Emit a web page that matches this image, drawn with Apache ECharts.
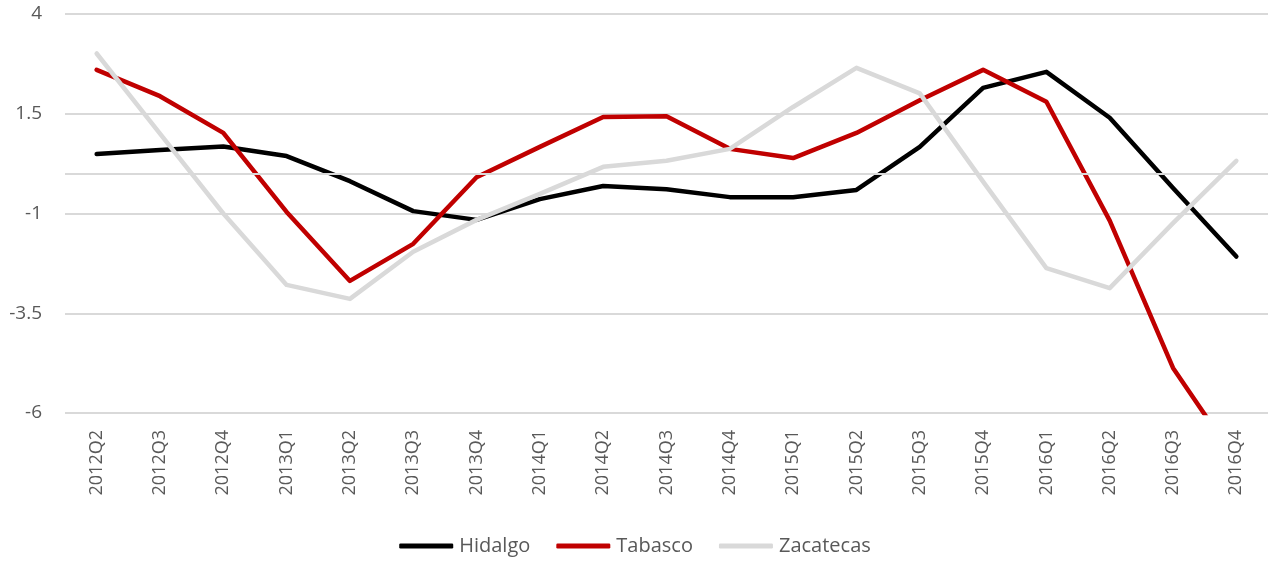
<!DOCTYPE html>
<html>
<head>
<meta charset="utf-8">
<script src="https://cdn.jsdelivr.net/npm/echarts@6/dist/echarts.min.js"></script>
<style>
  html, body { margin: 0; padding: 0; background: #fff; }
  #chart { width: 1270px; height: 561px; }
</style>
</head>
<body>
<div id="chart"></div>
<script>
const quarters = ['2012Q2', '2012Q3', '2012Q4', '2013Q1', '2013Q2', '2013Q3', '2013Q4',
  '2014Q1', '2014Q2', '2014Q3', '2014Q4', '2015Q1', '2015Q2', '2015Q3', '2015Q4',
  '2016Q1', '2016Q2', '2016Q3', '2016Q4'];

const hidalgo = [0.49, 0.59, 0.68, 0.44, -0.19, -0.94, -1.16, -0.64, -0.31, -0.39,
  -0.59, -0.59, -0.41, 0.67, 2.15, 2.55, 1.40, -0.36, -2.08];
const tabasco = [2.60, 1.94, 1.02, -0.96, -2.69, -1.76, -0.09, 0.67, 1.42, 1.44,
  0.62, 0.39, 1.02, 1.84, 2.60, 1.80, -1.18, -4.87, -7.2];
const zacatecas = [3.01, 1.0, -1.0, -2.79, -3.14, -1.96, -1.16, -0.51, 0.17, 0.32,
  0.62, 1.67, 2.65, 2.01, -0.2, -2.37, -2.87, -1.24, 0.32];

const yMin = -6, yMax = 4, yStep = 2.5;

const font = '"Open Sans", "Noto Sans", sans-serif';
const textColor = '#595959';
const gridColor = '#d9d9d9';

function lineSeries(name, data, color) {
  return {
    name: name,
    type: 'line',
    data: data,
    symbol: 'none',
    smooth: false,
    lineStyle: { color: color, width: 4.5, cap: 'round', join: 'round' },
    itemStyle: { color: color }
  };
}

const chart = echarts.init(document.getElementById('chart'));
const series = [
  lineSeries('Hidalgo', hidalgo, '#000000'),
  lineSeries('Tabasco', tabasco, '#c00000'),
  lineSeries('Zacatecas', zacatecas, '#d9d9d9')
];
// zero line drawn like the gridlines
series[0].markLine = {
  silent: true,
  symbol: ['none', 'none'],
  label: { show: false },
  lineStyle: { color: gridColor, width: 2, type: 'solid' },
  data: [{ yAxis: 0 }]
};

chart.setOption({
  animation: false,
  grid: { left: 65, right: 2, top: 14, bottom: 148 },
  legend: {
    bottom: 0,
    left: 'center',
    icon: 'roundRect',
    itemWidth: 54,
    itemHeight: 5,
    itemGap: 26,
    textStyle: { color: textColor, fontSize: 20, fontFamily: font, padding: [0, 0, 0, 1] },
    data: ['Hidalgo', 'Tabasco', 'Zacatecas']
  },
  xAxis: {
    type: 'category',
    data: quarters,
    boundaryGap: true,
    axisLine: { show: false },
    axisTick: { show: false },
    axisLabel: {
      rotate: 90,
      interval: 0,
      margin: 17,
      color: textColor,
      fontSize: 18,
      fontFamily: font
    }
  },
  yAxis: {
    type: 'value',
    min: yMin,
    max: yMax,
    interval: yStep,
    axisLine: { show: false },
    axisTick: { show: false },
    axisLabel: { margin: 23, color: textColor, fontSize: 19, fontFamily: font },
    splitLine: { lineStyle: { color: gridColor, width: 2 } }
  },
  series: series
});
</script>
</body>
</html>
